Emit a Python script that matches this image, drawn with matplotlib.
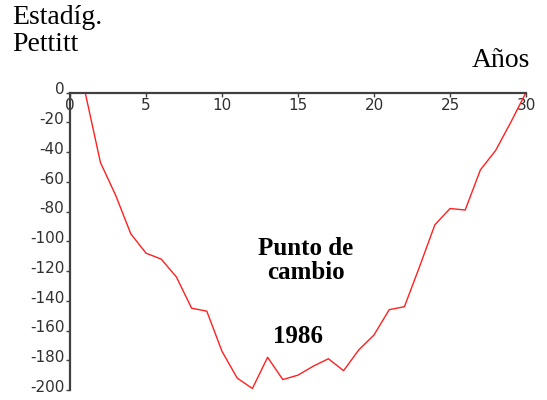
import numpy as np
import matplotlib.pyplot as plt
from matplotlib.transforms import ScaledTranslation

plt.rcParams['axes.unicode_minus'] = False

# Pettitt statistic by year index
years = [1, 2, 3, 4, 5, 6, 7, 8, 9, 10, 11, 12, 13, 14, 15, 16, 17, 18, 19, 20,
         21, 22, 23, 24, 25, 26, 27, 28, 29, 30]
pettitt = [0, -47, -69, -95, -108, -112, -124, -145, -147, -174, -192, -199,
           -178, -193, -190, -184, -179, -187, -173, -163, -146, -144, -117,
           -89, -78, -79, -52, -39, -20, 0]

xticks = [0, 5, 10, 15, 20, 25, 30]
yticks = [0, -20, -40, -60, -80, -100, -120, -140, -160, -180, -200]

serif = 'Liberation Serif'
axcol = '#404040'

fig = plt.figure(figsize=(5.47, 4.00), dpi=100)
ax = fig.add_axes([70/547, 1 - 390/400, 456/547, (390 - 92.5)/400])

ax.plot(years, pettitt, color='#ff2020', lw=1.0)

ax.set_xlim(0, 30)
ax.set_ylim(-200, 0)
ax.set_xticks(xticks)
ax.set_yticks(yticks)

for s in ['right', 'bottom']:
    ax.spines[s].set_visible(False)
for s in ['top', 'left']:
    ax.spines[s].set_color(axcol)
    ax.spines[s].set_linewidth(1.6)

ax.tick_params(axis='x', top=True, bottom=False, labeltop=True, labelbottom=False,
               direction='in', length=3, width=1, color=axcol, pad=-15,
               labelsize=11, labelcolor='#303030')
ax.tick_params(axis='y', direction='out', length=3, width=1, color=axcol, pad=1,
               labelsize=11, labelcolor='#303030')
for lab in ax.get_yticklabels():
    lab.set_transform(lab.get_transform() + ScaledTranslation(0, 3/72, fig.dpi_scale_trans))

fig.text(12/547, 1 - 23.5/400, 'Estadíg.', family=serif, fontsize=20, ha='left', va='baseline')
fig.text(12/547, 1 - 50.7/400, 'Pettitt', family=serif, fontsize=20, ha='left', va='baseline')
fig.text(530/547, 1 - 67.3/400, 'Años', family=serif, fontsize=20, ha='right', va='baseline')

ax.text(15.5, -113, 'Punto de\ncambio', family=serif, fontsize=18, fontweight='bold',
        ha='center', va='center', linespacing=1.05)
ax.text(15.0, -164, '1986', family=serif, fontsize=18, fontweight='bold',
        ha='center', va='center')

fig.savefig('out.png', dpi=100)
